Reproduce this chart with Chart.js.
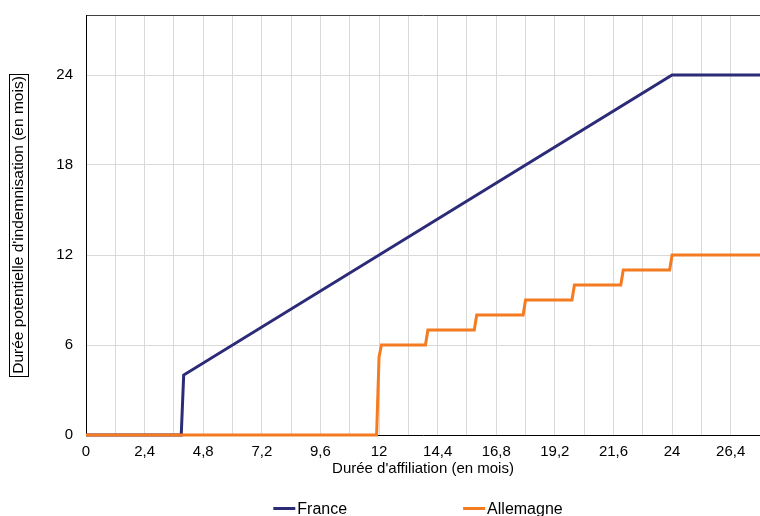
<!DOCTYPE html>
<html lang="fr">
<head>
<meta charset="utf-8">
<title>Durée d'indemnisation</title>
<script src="https://cdn.jsdelivr.net/npm/chart.js@4.4.1/dist/chart.umd.min.js"></script>
<style>
    html, body { margin: 0; padding: 0; background: #fff; }
    canvas { display: block; }
</style>
</head>
<body>
<canvas id="chart" width="760" height="516"></canvas>
<script>
// durée d'affiliation (mois) -> durée potentielle d'indemnisation (mois)
const franceX = [0, 3.9, 4, 24, 27.6];
const franceY = [0, 0, 4, 24, 24];

const allemagneX = [0, 11.9, 12, 12.1, 13.9, 14, 15.9, 16, 17.9, 18, 19.9, 20, 21.9, 22, 23.9, 24, 27.6];
const allemagneY = [0, 0, 5.2, 6, 6, 7, 7, 8, 8, 9, 9, 10, 10, 11, 11, 12, 12];

const seriesNames = ['France', 'Allemagne'];
const seriesColors = ['#2b2b78', '#f47b20'];

const xTitle = "Durée d'affiliation (en mois)";
const yTitle = "Durée potentielle d'indemnisation (en mois)";

const FONT = "'Liberation Sans', Arial, sans-serif";
const FS = 15;
const YT_FS = 15.5;

function toPoints(xs, ys) {
    return xs.map((x, i) => ({ x: x, y: ys[i] }));
}

function formatFr(value) {
    const v = Math.round(value * 10) / 10;
    return Number.isInteger(v) ? String(v) : v.toFixed(1).replace('.', ',');
}

// frame around the y axis title + bottom legend
const extras = {
    id: 'extras',
    afterDraw(chart) {
        const ctx = chart.ctx;
        const area = chart.chartArea;
        const yScale = chart.scales.y;

        ctx.save();
        ctx.font = YT_FS + 'px ' + FONT;
        const tw = ctx.measureText(yTitle).width;
        const cx = yScale.left + YT_FS * 1.2 / 2 + 9.5;
        const cy = (yScale.top + yScale.bottom) / 2;
        ctx.strokeStyle = '#000';
        ctx.lineWidth = 1;
        ctx.strokeRect(Math.round(cx - 9.5) + 0.5, Math.round(cy - tw / 2 - 2) + 0.5, 19, Math.round(tw + 4));

        // legend
        ctx.font = '16px ' + FONT;
        const lineW = 22, gapText = 2, gapItems = 116;
        const widths = seriesNames.map(n => lineW + gapText + ctx.measureText(n).width);
        const total = widths.reduce((a, b) => a + b, 0) + gapItems;
        let x = (area.left + area.right) / 2 - total / 2 - 5;
        const yLine = 508.5;
        ctx.textBaseline = 'alphabetic';
        ctx.textAlign = 'left';
        seriesNames.forEach((n, i) => {
            ctx.strokeStyle = seriesColors[i];
            ctx.lineWidth = 3;
            ctx.beginPath();
            ctx.moveTo(x, yLine);
            ctx.lineTo(x + lineW, yLine);
            ctx.stroke();
            ctx.fillStyle = '#000';
            ctx.fillText(n, x + lineW + gapText, yLine + 5.5);
            x += widths[i] + gapItems;
        });
        ctx.restore();
    }
};

const ctx = document.getElementById('chart').getContext('2d');
const chart = new Chart(ctx, {
    type: 'line',
    data: {
        datasets: [
            {
                label: seriesNames[0],
                data: toPoints(franceX, franceY),
                borderColor: seriesColors[0],
                backgroundColor: seriesColors[0],
                borderWidth: 3,
                pointRadius: 0,
                tension: 0,
                clip: 4,
                order: 2
            },
            {
                label: seriesNames[1],
                data: toPoints(allemagneX, allemagneY),
                borderColor: seriesColors[1],
                backgroundColor: seriesColors[1],
                borderWidth: 3,
                pointRadius: 0,
                tension: 0,
                clip: 4,
                order: 1
            }
        ]
    },
    options: {
        responsive: false,
        animation: false,
        layout: { padding: { top: 15, right: 0, left: 0, bottom: 38 } },
        plugins: {
            legend: { display: false },
            tooltip: { enabled: false }
        },
        scales: {
            x: {
                type: 'linear',
                min: 0,
                max: 27.6,
                afterFit: s => { s.height = 43; s.paddingRight = 0; },
                grid: {
                    color: '#d9d9d9',
                    drawTicks: false
                },
                border: { color: '#000', width: 1 },
                ticks: {
                    stepSize: 1.2,
                    autoSkip: false,
                    maxRotation: 0,
                    padding: 8,
                    color: '#000',
                    font: { family: FONT, size: FS },
                    callback: (value, index) => index % 2 === 0 ? formatFr(value) : ''
                },
                title: {
                    display: true,
                    text: xTitle,
                    color: '#000',
                    font: { family: FONT, size: FS },
                    padding: { top: 0, bottom: 0 }
                }
            },
            y: {
                min: 0,
                max: 28,
                afterFit: s => { s.width = 86; s.paddingTop = 0; },
                grid: {
                    color: c => c.tick && c.tick.value === 28 ? '#404040' : '#d9d9d9',
                    drawTicks: false
                },
                border: { color: '#000', width: 1 },
                ticks: {
                    stepSize: 6,
                    padding: 13,
                    color: '#000',
                    font: { family: FONT, size: FS },
                    callback: value => value % 6 === 0 ? String(value) : ''
                },
                title: {
                    display: true,
                    text: yTitle,
                    color: '#000',
                    font: { family: FONT, size: YT_FS },
                    padding: { top: 9.5, bottom: 0 }
                }
            }
        }
    },
    plugins: [extras]
});
</script>
</body>
</html>
